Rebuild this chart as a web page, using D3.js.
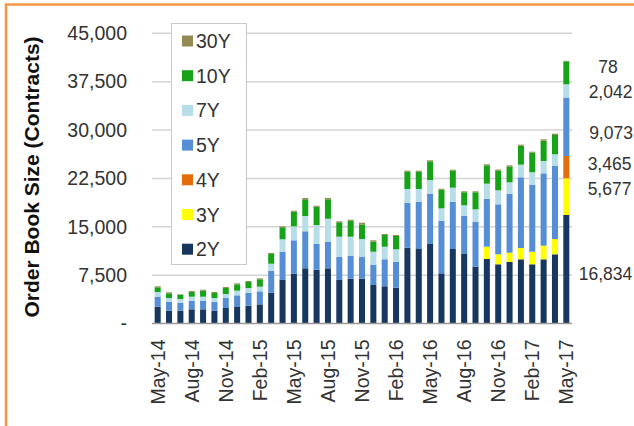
<!DOCTYPE html>
<html>
<head>
<meta charset="utf-8">
<script src="https://cdn.jsdelivr.net/npm/d3@7"></script>
<style>
  body { margin: 0; background: #fff; }
  svg { display: block; font-family: "Liberation Sans", Arial, sans-serif; }
</style>
</head>
<body>
<svg width="634" height="426"></svg>
<script>
var months = ["May-14","Jun-14","Jul-14","Aug-14","Sep-14","Oct-14","Nov-14","Dec-14","Jan-15","Feb-15",
  "Mar-15","Apr-15","May-15","Jun-15","Jul-15","Aug-15","Sep-15","Oct-15","Nov-15","Dec-15",
  "Jan-16","Feb-16","Mar-16","Apr-16","May-16","Jun-16","Jul-16","Aug-16","Sep-16","Oct-16",
  "Nov-16","Dec-16","Jan-17","Feb-17","Mar-17","Apr-17","May-17"];
var tickLabels = ["May-14","Aug-14","Nov-14","Feb-15","May-15","Aug-15","Nov-15","Feb-16","May-16","Aug-16","Nov-16","Feb-17","May-17"];
var yTicks = [0, 7500, 15000, 22500, 30000, 37500, 45000];

var seriesNames = ["2Y","3Y","4Y","5Y","7Y","10Y","30Y"];
var seriesColors = ["#17375e","#ffff00","#e46c0a","#558ed5","#b7dee8","#17a317","#948a54"];

var s2Y = [2610,1990,1990,2200,2200,1990,2400,2560,2770,2970,4780,6750,7720,8560,8340,8560,6750,6950,6950,5970,
  5770,5550,11750,11550,12330,7780,11550,10780,8810,10000,9180,9540,9950,9180,9950,10730,16834];
var s3Y = [0,0,0,0,0,0,0,0,0,0,0,0,0,0,0,0,0,0,0,0,
  0,0,0,0,0,0,0,0,0,1910,1550,1440,1760,1950,2120,2370,5677];
var s4Y = [0,0,0,0,0,0,0,0,0,0,0,0,0,0,0,0,0,0,0,0,
  0,0,0,0,0,0,0,0,0,0,0,0,0,0,0,0,3465];
var s5Y = [1550,1390,1190,1340,1340,1340,1550,1810,2010,2020,3410,4380,5180,5740,3990,4130,3560,3560,3360,3150,
  4190,3990,6980,7340,7750,8160,7340,5940,6930,7400,7750,9100,10960,10350,11220,11320,9073];
var s7Y = [720,570,620,620,620,620,620,720,720,720,1080,1930,2170,2370,2940,3560,3150,2950,2790,2010,
  1950,1970,2130,1970,2170,1920,2170,1610,1970,2370,2170,1810,1960,1970,1910,1820,2042];
var s10Y = [730,730,620,720,930,780,930,980,940,1140,1510,1860,2270,2590,2840,3010,2230,2480,2220,1560,
  1810,2060,2680,2680,2900,2890,2640,2020,2640,2850,3050,2430,2940,3040,3150,2990,3560];
var s30Y = [150,150,100,150,150,150,150,150,150,150,150,150,150,200,160,200,160,160,300,210,
  150,150,160,160,160,150,150,150,150,160,180,210,160,150,210,200,78];

// value labels shown beside the last bar
var lastLabels = ["16,834","5,677","3,465","9,073","2,042",null,"78"];

var seriesData = [s2Y, s3Y, s4Y, s5Y, s7Y, s10Y, s30Y];
var table = months.map(function(m, i) {
  var row = {month: m};
  seriesNames.forEach(function(s, j) { row[s] = seriesData[j][i]; });
  return row;
});

var svg = d3.select("svg");

// outer frame
svg.append("rect")
  .attr("x", 6).attr("y", 4.5)
  .attr("width", 700).attr("height", 500)
  .attr("fill", "none")
  .attr("stroke", "#f79646")
  .attr("stroke-width", 2.5);

var x = d3.scaleBand().domain(months).range([152, 572]).paddingInner(0.47).paddingOuter(0.235);
var y = d3.scaleLinear().domain([0, 45000]).range([323.5, 33.3]);
var color = d3.scaleOrdinal().domain(seriesNames).range(seriesColors);

// gridlines
svg.append("g")
  .selectAll("line")
  .data(yTicks.slice(1))
  .enter().append("line")
  .attr("x1", 152).attr("x2", 572)
  .attr("y1", function(d) { return y(d); })
  .attr("y2", function(d) { return y(d); })
  .attr("stroke", "#d4d4d4")
  .attr("stroke-width", 1.5);

// y axis labels
var yAxis = d3.axisLeft(y).tickValues(yTicks).tickSize(0).tickPadding(25)
  .tickFormat(function(d) { return d === 0 ? "-   " : d3.format(",")(d); });
var yg = svg.append("g").attr("transform", "translate(152,0)").call(yAxis);
yg.select(".domain").remove();
yg.selectAll("text")
  .style("font-size", "19.5px")
  .attr("fill", "#333");

// stacked bars
var stack = d3.stack().keys(seriesNames);
var layers = svg.append("g")
  .selectAll("g")
  .data(stack(table))
  .enter().append("g")
  .attr("fill", function(d) { return color(d.key); });

layers.selectAll("rect")
  .data(function(d) { return d; })
  .enter().append("rect")
  .attr("x", function(d) { return x(d.data.month); })
  .attr("width", x.bandwidth())
  .attr("y", function(d) { return y(d[1]); })
  .attr("height", function(d) { return y(d[0]) - y(d[1]); });

// baseline
svg.append("line")
  .attr("x1", 152).attr("x2", 572)
  .attr("y1", y(0)).attr("y2", y(0))
  .attr("stroke", "#9a9a9a")
  .attr("stroke-width", 1.5);

// x axis labels
var xAxis = d3.axisBottom(x).tickValues(tickLabels).tickSize(0).tickPadding(0);
var xg = svg.append("g").attr("transform", "translate(0," + y(0) + ")").call(xAxis);
xg.select(".domain").remove();
xg.selectAll("text")
  .attr("transform", "rotate(-90)")
  .attr("x", -16)
  .attr("y", 0)
  .attr("dy", "0.35em")
  .style("text-anchor", "end")
  .style("font-size", "19.5px")
  .attr("fill", "#333");

// axis title
svg.append("text")
  .attr("transform", "translate(39,177) rotate(-90)")
  .style("text-anchor", "middle")
  .style("font-size", "21px")
  .style("font-weight", "bold")
  .attr("fill", "#111")
  .text("Order Book Size (Contracts)");

// labels for the last bar
var lastStack = stack(table).map(function(s) { return s[s.length - 1]; });
var labelDx = [36.2, 40.2, 40.2, 41.7, 41.2, 0, 38.7];
var labelDy = [5, -8, -3, 6, 1, 0, 6];
var lastX = x(months[months.length - 1]) + x.bandwidth();
svg.append("g")
  .selectAll("text")
  .data(lastStack.map(function(d, i) { return {seg: d, text: lastLabels[i], i: i}; })
    .filter(function(d) { return d.text; }))
  .enter().append("text")
  .attr("x", function(d) { return lastX + labelDx[d.i]; })
  .attr("y", function(d) { return (y(d.seg[0]) + y(d.seg[1])) / 2 + labelDy[d.i]; })
  .attr("dy", "0.35em")
  .style("text-anchor", "middle")
  .style("font-size", "17.5px")
  .attr("fill", "#333")
  .text(function(d) { return d.text; });

// legend
var legend = svg.append("g");
legend.append("rect")
  .attr("x", 171.5).attr("y", 23.5)
  .attr("width", 75).attr("height", 241)
  .attr("fill", "#fff")
  .attr("stroke", "#c8c8c8");
var legendItems = legend.selectAll(".legend")
  .data(seriesNames.slice().reverse())
  .enter().append("g")
  .attr("class", "legend")
  .attr("transform", function(d, i) { return "translate(182," + (41 + i * 34.7) + ")"; });
legendItems.append("rect")
  .attr("y", -5.5)
  .attr("width", 11).attr("height", 11)
  .attr("fill", function(d) { return color(d); });
legendItems.append("text")
  .attr("x", 14)
  .attr("dy", "0.36em")
  .style("font-size", "19.5px")
  .attr("fill", "#333")
  .text(function(d) { return d; });
</script>
</body>
</html>
